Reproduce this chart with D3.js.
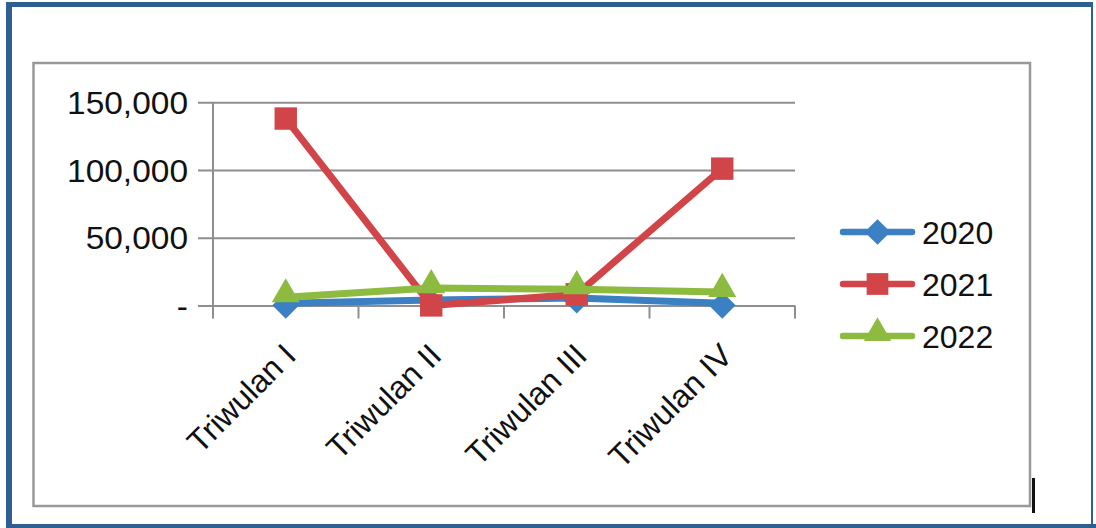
<!DOCTYPE html>
<html><head><meta charset="utf-8">
<script src="https://cdn.jsdelivr.net/npm/d3@7"></script>
<style>html,body{margin:0;padding:0;background:#fff;}svg{display:block;}</style>
</head><body>
<svg id="c" width="1096" height="528"></svg>
<script>
const categories = ["Triwulan I", "Triwulan II", "Triwulan III", "Triwulan IV"];
const seriesNames = ["2020", "2021", "2022"];
const values2020 = [1500, 4000, 5500, 1500];
const values2021 = [138000, 0, 8200, 101000];
const values2022 = [6000, 12800, 12000, 9900];
const yTicks = [0, 50000, 100000, 150000];

const colors = {"2020": "#3a80c3", "2021": "#d14448", "2022": "#8cbb3f"};
const shapes = {"2020": d3.symbolDiamond2, "2021": d3.symbolSquare2, "2022": d3.symbolTriangle2};
const seriesData = {"2020": values2020, "2021": values2021, "2022": values2022};

const svg = d3.select("#c");
const font = "'Liberation Sans', Arial, Helvetica, sans-serif";

// outer blue frame
svg.append("rect").attr("x", 7).attr("y", 2).attr("width", 1084).attr("height", 5).attr("fill", "#2e5f90");
svg.append("rect").attr("x", 6).attr("y", 2).attr("width", 6).attr("height", 526).attr("fill", "#2e5f90");
svg.append("rect").attr("x", 6).attr("y", 524).attr("width", 1090).attr("height", 4).attr("fill", "#2e5f90");
svg.append("rect").attr("x", 1091).attr("y", 2).attr("width", 2).attr("height", 526).attr("fill", "#2e5f90");

// chart box
svg.append("rect").attr("x", 33.5).attr("y", 63).attr("width", 996.5).attr("height", 443)
  .attr("fill", "#fff").attr("stroke", "#999").attr("stroke-width", 2.5);

// black bar
svg.append("rect").attr("x", 1032).attr("y", 478).attr("width", 3).attr("height", 35).attr("fill", "#111");

const x = d3.scaleBand().domain(categories).range([213, 795]);
const y = d3.scaleLinear().domain([0, 150000]).range([305.4, 102.3]);
const cx = c => x(c) + x.bandwidth() / 2;

// y axis / gridlines
const yAxis = d3.axisLeft(y).tickValues(yTicks)
  .tickFormat(d => d === 0 ? "-" : d3.format(",")(d))
  .tickSize(0).tickPadding(25);
const gy = svg.append("g").attr("transform", "translate(213,0)").call(yAxis);
gy.select(".domain").remove();
gy.selectAll(".tick line").attr("x1", -15).attr("x2", 795 - 213)
  .attr("stroke", "#8e8e8e").attr("stroke-width", 2);
gy.selectAll(".tick text").attr("font-family", font).attr("font-size", 31)
  .attr("fill", "#111").attr("x", 0).attr("dy", "0.36em")
  .attr("transform", "translate(-25,0) scale(1.08,1)");

// vertical axis line
svg.append("line").attr("x1", 213).attr("x2", 213).attr("y1", y(150000)).attr("y2", 318.5)
  .attr("stroke", "#8e8e8e").attr("stroke-width", 2);

// x axis tick marks at category boundaries
const bounds = categories.map(c => x(c)).concat([x.range()[1]]);
svg.append("g").selectAll("line").data(bounds.slice(1)).join("line")
  .attr("x1", d => d).attr("x2", d => d).attr("y1", y(0)).attr("y2", 318.5)
  .attr("stroke", "#8e8e8e").attr("stroke-width", 2);

// x labels
const xAxis = d3.axisBottom(x).tickSize(0);
const gx = svg.append("g").attr("transform", `translate(0,${y(0)})`).call(xAxis);
gx.select(".domain").remove();
gx.selectAll(".tick text")
  .attr("font-family", font).attr("font-size", 32).attr("fill", "#111")
  .attr("text-anchor", "end").attr("dy", 0).attr("y", 0)
  .attr("transform", "translate(12,52) rotate(-45)");

// series
const line = d3.line().x((d, i) => cx(categories[i])).y(d => y(d));
seriesNames.forEach(s => {
  const g = svg.append("g");
  g.append("path").datum(seriesData[s]).attr("d", line)
    .attr("fill", "none").attr("stroke", colors[s]).attr("stroke-width", 7)
    .attr("stroke-linejoin", "round").attr("stroke-linecap", "round");
  const size = s === "2020" ? 460 : (s === "2021" ? 640 : 560);
  g.selectAll("path.m").data(seriesData[s]).join("path").attr("class", "m")
    .attr("d", d3.symbol().type(shapes[s]).size(size))
    .attr("transform", (d, i) => `translate(${cx(categories[i])},${y(d) + (s === "2022" ? -3 : (s === "2020" ? 2 : 0))})`)
    .attr("fill", colors[s]);
});

// legend
const legendY = [232, 284, 336];
seriesNames.forEach((s, i) => {
  const g = svg.append("g").attr("transform", `translate(0,${legendY[i]})`);
  g.append("line").attr("x1", 843).attr("x2", 912).attr("y1", 0).attr("y2", 0)
    .attr("stroke", colors[s]).attr("stroke-width", 6.5).attr("stroke-linecap", "round");
  const size = s === "2020" ? 420 : (s === "2021" ? 600 : 540);
  g.append("path").attr("d", d3.symbol().type(shapes[s]).size(size))
    .attr("transform", `translate(877.5,${s === "2022" ? -3 : 0})`).attr("fill", colors[s]);
  g.append("text").attr("x", 922).attr("y", 0).attr("dy", "0.36em")
    .attr("font-family", font).attr("font-size", 32).attr("fill", "#111").text(s);
});
</script>
</body></html>
